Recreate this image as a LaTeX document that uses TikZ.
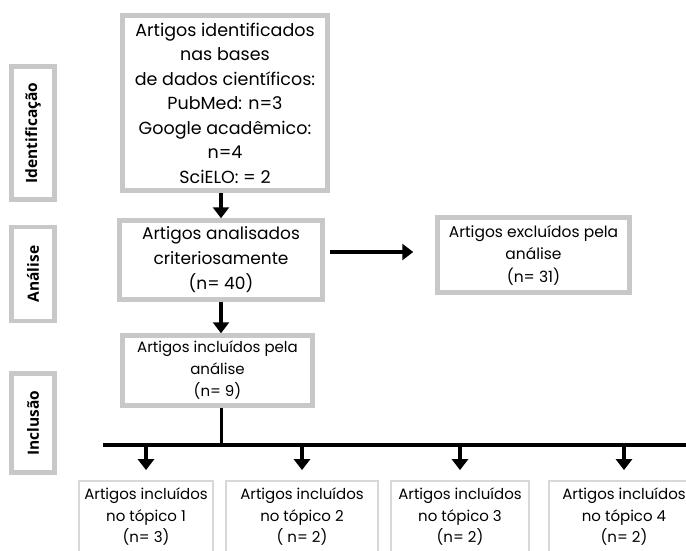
\documentclass[tikz,border=0pt]{standalone}
\usepackage{fontspec}
\setmainfont{Poppins}
\newfontfamily\stagefont{Open Sans}
\usetikzlibrary{arrows.meta, positioning}
\definecolor{framecol}{HTML}{C8C8C8}
\definecolor{thincol} {HTML}{D8D8D8}
\tikzset{
  sbox/.style={rectangle, draw=framecol, line width=4.5pt, align=center, inner sep=0pt},
  stage/.style={rectangle, draw=framecol, line width=4.5pt, inner sep=0pt, rotate=90,
                minimum height=43pt, font=\stagefont\bfseries\fontsize{15.5}{18}\selectfont},
  tbox/.style={rectangle, draw=thincol, line width=1.8pt, align=center, inner sep=0pt,
               minimum height=72pt, font=\fontsize{15}{21.5}\selectfont},
  flow/.style={-{Triangle[length=11pt,width=16pt]}, line width=3.5pt},
  bus/.style={line width=3.5pt},
}

\begin{document}
\begin{tikzpicture}[x=1pt, y=-1pt]
  \useasboundingbox (0,0) rectangle (686,550);
  \clip (0,0) rectangle (686,550);
  % ── stage labels (left column) ───────────────────────────────────
  \node[stage, minimum width=133pt] (Sid)  at (33,133) {Identificação};
  \node[stage, minimum width=94pt]  (San)  at (33,274) {Análise};
  \node[stage, minimum width=99pt]  (Sin)  at (33,423) {Inclusão};
  % ── main flow boxes ──────────────────────────────────────────────
  \node[sbox, minimum width=205pt, minimum height=175pt, font=\fontsize{17.5}{24.5}\selectfont]
    (ident) at (225,103)
    {Artigos identificados\\nas bases\\de dados científicos:\\PubMed: n=3\\Google acadêmico:\\n=4\\SciELO: = 2};
  \node[sbox, minimum width=203pt, minimum height=79pt, font=\fontsize{17}{25}\selectfont]
    (anal) at (221,260) {Artigos analisados\\criteriosamente\\(n= 40)};
  \node[sbox, minimum width=192pt, minimum height=75pt, font=\fontsize{15.5}{22.5}\selectfont]
    (excl) at (533.5,255) {Artigos excluídos pela\\análise\\(n= 31)};
  \node[sbox, minimum width=190pt, minimum height=70pt, font=\fontsize{15}{22}\selectfont]
    (incl) at (217.5,370.5) {Artigos incluídos pela\\análise\\(n= 9)};
  % ── topic boxes (bottom row, cut by the page edge) ───────────────
  \node[tbox, minimum width=134pt] (T1) at (146,517) {Artigos incluídos\\no tópico 1\\(n= 3)};
  \node[tbox, minimum width=152pt] (T2) at (302,517) {Artigos incluídos\\no tópico 2\\( n= 2)};
  \node[tbox, minimum width=138pt] (T3) at (460,517) {Artigos incluídos\\no tópico 3\\(n= 2)};
  \node[tbox, minimum width=150pt] (T4) at (624,517) {Artigos incluídos\\no tópico 4\\(n= 2)};
  % ── flow arrows ──────────────────────────────────────────────────
  \draw[flow] (anal.north |- ident.south) -- (anal.north);
  \draw[flow] (anal.south) -- (anal.south |- incl.north);
  \draw[flow, shorten <=5pt, shorten >=22pt] ([yshift=8pt]anal.east) -- ([yshift=3pt]excl.west);
  % ── distribution bar ─────────────────────────────────────────────
  \coordinate (busL) at (103,445);
  \coordinate (busR) at (690,445);
  \draw[bus] (busL) -- (busR);
  \draw[bus] ([xshift=4pt]incl.south) -- ([xshift=4pt]incl.south |- busL);
  \draw[flow, shorten >=10pt] (T1.north |- busL) -- (T1.north);
  \draw[flow, shorten >=10pt] (T2.north |- busL) -- (T2.north);
  \draw[flow, shorten >=10pt] (T3.north |- busL) -- (T3.north);
  \draw[flow, shorten >=10pt] (T4.north |- busL) -- (T4.north);
\end{tikzpicture}
\end{document}
